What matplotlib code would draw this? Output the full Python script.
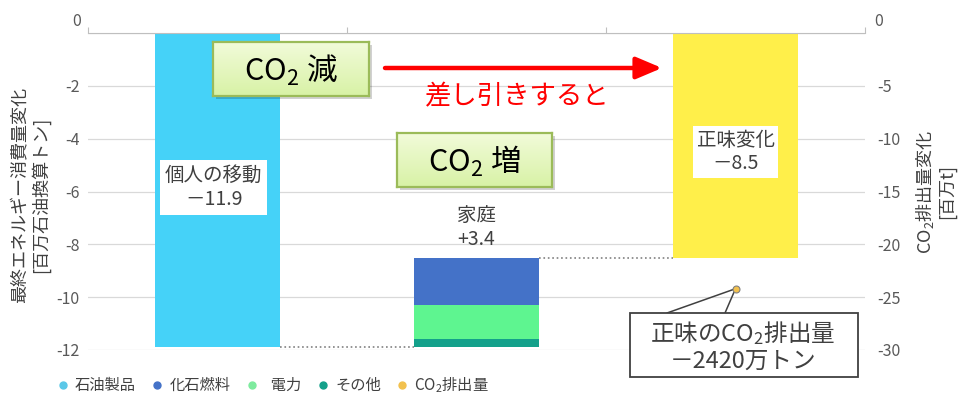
import matplotlib
matplotlib.use('Agg')
import matplotlib.pyplot as plt
import numpy as np
from matplotlib.lines import Line2D
from matplotlib.patches import Rectangle, FancyArrowPatch
from matplotlib.colors import LinearSegmentedColormap

plt.rcParams['font.family'] = ['Noto Sans CJK JP', 'DejaVu Sans']
plt.rcParams['mathtext.fontset'] = 'custom'
plt.rcParams['mathtext.rm'] = 'Noto Sans CJK JP'
plt.rcParams['mathtext.it'] = 'Noto Sans CJK JP'
plt.rcParams['mathtext.bf'] = 'Noto Sans CJK JP'
plt.rcParams['axes.unicode_minus'] = False

# ---------------- data ----------------
categories = ['個人の移動', '家庭', '正味変化']
transport_change = -11.9            # 石油製品
household_parts = ['化石燃料', '電力', 'その他']
household_values = [1.8, 1.3, 0.3]
net_change = -8.5
co2_net = -24.2                      # 百万t
co2_label = '－2420万トン'
left_ticks = [0, -2, -4, -6, -8, -10, -12]
right_ticks = [0, -5, -10, -15, -20, -25, -30]
legend_labels = ['石油製品', '化石燃料', '  電力', 'その他', 'CO$_2$排出量']

# ---------------- style ----------------
c_oil = '#45D2F8'
c_fossil = '#4472C8'
c_elec = '#5EF590'
c_other = '#13A08A'
c_net = '#FFEF4A'
c_co2 = '#F2C14E'
part_colors = {'化石燃料': c_fossil, '電力': c_elec, 'その他': c_other}
txt = '#404040'

W, H = 960, 401
fig = plt.figure(figsize=(W / 100, H / 100), dpi=100)
fig.patch.set_facecolor('white')

def fx(px):
    return px / W

def fy(py):
    return 1 - py / H

ax = fig.add_axes([fx(88), fy(350), (865 - 88) / W, (350 - 33) / H])
ax.set_xlim(-0.5, 2.5)
ax.set_ylim(-12, 0)

w = 0.483
x = np.arange(len(categories))
ax.bar(x[0], transport_change, width=w, color=c_oil, zorder=2)
cur = transport_change
for name, val in zip(reversed(household_parts), reversed(household_values)):
    ax.bar(x[1], val, bottom=cur, width=w, color=part_colors[name], zorder=2)
    cur += val
household_top = cur
ax.bar(x[2], net_change, width=w, color=c_net, zorder=2)

# connectors
ax.plot([x[0] + w / 2, x[1] - w / 2], [transport_change] * 2, ls=':', color='#808080', lw=1.2, zorder=3)
ax.plot([x[1] + w / 2, x[2] - w / 2], [household_top] * 2, ls=':', color='#808080', lw=1.2, zorder=3)

# axes styling
ax.set_yticks(left_ticks)
ax.set_yticklabels([str(t) if t != 0 else '' for t in left_ticks])
ax.yaxis.grid(True, color='#D9D9D9', lw=0.9)
ax.set_axisbelow(True)
for s in ['left', 'right', 'bottom']:
    ax.spines[s].set_visible(False)
ax.spines['top'].set_color('#BFBFBF')
ax.xaxis.tick_top()
ax.set_xticks([-0.5, 0.5, 1.5, 2.5])
ax.set_xticklabels([])
ax.tick_params(axis='x', length=4, color='#BFBFBF', direction='out')
ax.tick_params(axis='y', length=0, pad=6, labelsize=11.5, labelcolor='#595959')

ax2 = ax.twinx()
ax2.set_ylim(-30, 0)
ax2.set_yticks(right_ticks)
ax2.set_yticklabels([str(t) if t != 0 else '' for t in right_ticks])
for s in ['left', 'right', 'bottom', 'top']:
    ax2.spines[s].set_visible(False)
ax2.tick_params(axis='y', length=0, pad=9, labelsize=11.5, labelcolor='#595959')
ax2.plot(x[2], co2_net, 'o', ms=5, mfc=c_co2, mec='#808080', mew=0.8, zorder=5)

# zero labels sit slightly above the axis line
fig.text(fx(81), fy(21), '0', ha='right', va='center', fontsize=11.5, color='#595959')
fig.text(fx(874), fy(21), '0', ha='left', va='center', fontsize=11.5, color='#595959')

# axis titles
fig.text(fx(31), fy(195), '最終エネルギー消費量変化\n[百万石油換算トン]', rotation=90,
         ha='center', va='center', fontsize=13, color=txt, linespacing=1.05)
fig.text(fx(935), fy(192), 'CO$_2$排出量変化\n[百万t]', rotation=90,
         ha='center', va='center', fontsize=13, color=txt, linespacing=1.1)

# bar labels
ax.text(x[0] - 0.015, -5.85, f'{categories[0]}\n－{abs(transport_change):.1f}', ha='center', va='center',
        fontsize=14, color=txt, linespacing=1.15, zorder=4,
        bbox=dict(boxstyle='square,pad=0.25', fc='white', ec='none'))
ax.text(x[1], household_top + 0.3, f'{categories[1]}\n+{sum(household_values):.1f}', ha='center', va='bottom',
        fontsize=14, color=txt, linespacing=1.15, zorder=4)
ax.text(x[2], -4.5, f'{categories[2]}\n－{abs(net_change):.1f}', ha='center', va='center',
        fontsize=14, color=txt, linespacing=1.15, zorder=4,
        bbox=dict(boxstyle='square,pad=0.2', fc='white', ec='none'))

# green callout boxes
cmap = LinearSegmentedColormap.from_list('g', ['#D8F2A6', '#F2FBDA'])
grad = np.linspace(0, 1, 64).reshape(-1, 1)

def green_box(x0, y0, x1, y1, text):
    sh = Rectangle((fx(x0 + 3), fy(y1 + 3)), (x1 - x0) / W, (y1 - y0) / H, transform=fig.transFigure,
                   fc='black', alpha=0.18, ec='none', zorder=5)
    fig.add_artist(sh)
    bax = fig.add_axes([fx(x0), fy(y1), (x1 - x0) / W, (y1 - y0) / H])
    bax.set_zorder(6)
    bax.imshow(grad, aspect='auto', extent=[0, 1, 0, 1], cmap=cmap, origin='lower')
    bax.set_xticks([])
    bax.set_yticks([])
    for s in bax.spines.values():
        s.set_color('#9BBB59')
        s.set_linewidth(1.6)
    bax.text(0.5, 0.48, text, ha='center', va='center', fontsize=22, color='black', transform=bax.transAxes)

green_box(213, 42, 369, 96, 'CO$_2$ 減')
green_box(397, 133, 552, 187, 'CO$_2$ 増')

# red arrow and text
arr = FancyArrowPatch((fx(385), fy(68)), (fx(662), fy(68)), transform=fig.transFigure,
                      arrowstyle='-|>,head_length=1.3,head_width=0.55', mutation_scale=12,
                      color='#FF0000', lw=3.2, shrinkA=0, shrinkB=0, zorder=7)
fig.add_artist(arr)
fig.text(fx(517), fy(97), '差し引きすると', ha='center', va='center', fontsize=19, color='#FF0000')

# CO2 callout
for sx in (667, 725):
    ax2.annotate('', xy=(x[2], co2_net), xycoords='data', xytext=(fx(sx), fy(313)),
                 textcoords='figure fraction',
                 arrowprops=dict(arrowstyle='-', color='#404040', lw=1.1, shrinkA=0, shrinkB=0))
fig.add_artist(Rectangle((fx(630), fy(377)), (858 - 630) / W, (377 - 313) / H, transform=fig.transFigure,
                         fc='white', ec='#404040', lw=1.3, zorder=8))
fig.text(fx(743), fy(346), f'正味のCO$_2$排出量\n{co2_label}', ha='center', va='center',
         fontsize=17, color=txt, linespacing=1.2, zorder=9)

# legend
handles = [Line2D([], [], marker='o', ls='', ms=5, color=c) for c in
           ['#5BC8E8', c_fossil, '#7EEB9E', c_other, c_co2]]
fig.legend(handles, legend_labels, ncol=5, loc='center left', bbox_to_anchor=(fx(49), fy(385)),
           frameon=False, fontsize=11, handlelength=0.8, handletextpad=0.4, columnspacing=1.0,
           borderpad=0, labelcolor=txt)

fig.savefig('out.png', dpi=100)
